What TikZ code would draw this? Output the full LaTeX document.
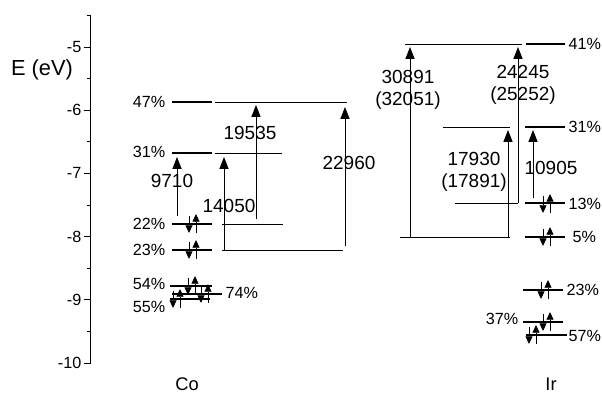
\documentclass[tikz,border=0pt]{standalone}
\usepackage{fontspec}
\setmainfont{Liberation Sans}
\usetikzlibrary{arrows.meta,positioning}

\begin{document}
\begin{tikzpicture}[
  x=0.025cm, y=-0.025cm,
  every node/.style={inner sep=1pt},
  level/.style={line width=1.4pt},
  guide/.style={line width=0.6pt},
  trans/.style={-{Triangle[length=8.5pt,width=6.5pt]}, line width=0.65pt},
  spin/.style={-{Triangle[length=5.5pt,width=5pt]}, line width=0.6pt},
  pct/.style={font=\fontsize{11.5}{13}\selectfont},
  val/.style={font=\fontsize{13.5}{16}\selectfont, align=center},
  ticklab/.style={font=\fontsize{11.5}{13}\selectfont, anchor=east},
  metal/.style={font=\fontsize{13}{15}\selectfont}
]
  \useasboundingbox (0,0) rectangle (602,399);

  % energy axis
  \coordinate (axtop) at (90.5,15);
  \coordinate (axbot) at (90.5,363);
  \draw[line width=0.8pt] (axtop) -- (axbot);
  \foreach \e in {5,...,10} {
    \pgfmathsetmacro\yy{47+(\e-5)*63.2}
    \draw[line width=0.7pt] (84,\yy) -- (90.5,\yy);
    \node[ticklab] (tick\e) at (83,\yy) {-\e};
  }
  \foreach \e in {4.5,5.5,...,9.5} {
    \pgfmathsetmacro\yy{47+(\e-5)*63.2}
    \draw[line width=0.7pt] (87,\yy) -- (90.5,\yy);
  }
  \node[font=\fontsize{15.5}{17}\selectfont] (elabel) at (42,70) {E (eV)};

  % Co levels
  \draw[level] (172,102) -- (212,102); \draw[guide] (215,102) -- (347,102);
  \draw[level] (172,153) -- (212,153); \draw[guide] (215,153) -- (282,153);
  \draw[level] (172,224) -- (212,224); \draw[guide] (222,224) -- (283,224);
  \draw[level] (172,250) -- (212,250); \draw[guide] (222,250) -- (343,250);
  \draw[level] (170,286) -- (212,286);
  \draw[level] (172,294) -- (222,294);
  \draw[level] (170,299) -- (210,299);

  \node[pct, anchor=east] (co47) at (167,102) {47\%};
  \node[pct, anchor=east] (co31) at (167,152) {31\%};
  \node[pct, anchor=east] (co22) at (167,224) {22\%};
  \node[pct, anchor=east] (co23) at (167,250) {23\%};
  \node[pct, anchor=east] (co54) at (167,284) {54\%};
  \node[pct, anchor=east] (co55) at (167,307) {55\%};
  \node[pct, anchor=west] (co74) at (224,293) {74\%};

  % Ir levels
  \draw[guide] (405,44) -- (522,44);  \draw[level] (526,44) -- (565,44);
  \draw[guide] (443,127) -- (510,127); \draw[level] (525,127) -- (565,127);
  \draw[guide] (455,203) -- (518,203); \draw[level] (525,203) -- (565,203);
  \draw[guide] (400,237) -- (510,237); \draw[level] (525,237) -- (565,237);
  \draw[level] (523,290) -- (563,290);
  \draw[level] (523,322) -- (563,322);
  \draw[level] (526,335) -- (567,335);

  \node[pct, anchor=west] (ir41) at (567,44) {41\%};
  \node[pct, anchor=west] (ir31) at (567,127) {31\%};
  \node[pct, anchor=west] (ir13) at (567,204) {13\%};
  \node[pct, anchor=west] (ir5) at (571,237) {5\%};
  \node[pct, anchor=west] (ir23) at (565,290) {23\%};
  \node[pct, anchor=east] (ir37) at (520,319) {37\%};
  \node[pct, anchor=west] (ir57) at (567,336) {57\%};

  % electron pairs (down, up)
  \foreach \x/\y in {189/224, 189/250, 188/286, 201/294, 173/299,
                     543/204, 543/237, 541/290, 543/322, 529/335} {
    \draw[spin] (\x,\y-8) -- (\x,\y+9);
    \draw[spin] (\x+7,\y+9) -- (\x+7,\y-10);
  }

  % Co transitions
  \coordinate (c9710a) at (177,216);  \coordinate (c9710b) at (177,157);
  \coordinate (c14050a) at (224,250); \coordinate (c14050b) at (224,157);
  \coordinate (c19535a) at (256,219); \coordinate (c19535b) at (256,105);
  \coordinate (c22960a) at (345,246); \coordinate (c22960b) at (345,107);
  \draw[trans] (c9710a) -- (c9710b);
  \draw[trans] (c14050a) -- (c14050b);
  \draw[trans] (c19535a) -- (c19535b);
  \draw[trans] (c22960a) -- (c22960b);
  \node[val] (v9710) at (172,181) {9710};
  \node[val] (v14050) at (229,206) {14050};
  \node[val] (v19535) at (250,133) {19535};
  \node[val] (v22960) at (349,163) {22960};

  % Ir transitions
  \coordinate (i30891a) at (410,237); \coordinate (i30891b) at (410,47);
  \coordinate (i24245a) at (518,203); \coordinate (i24245b) at (518,47);
  \coordinate (i17930a) at (508,237); \coordinate (i17930b) at (508,130);
  \coordinate (i10905a) at (533,198); \coordinate (i10905b) at (533,130);
  \draw[trans] (i30891a) -- (i30891b);
  \draw[trans] (i24245a) -- (i24245b);
  \draw[trans] (i17930a) -- (i17930b);
  \draw[trans] (i10905a) -- (i10905b);
  \node[val] (v30891) at (408,90) {30891\\(32051)};
  \node[val] (v24245) at (523,85) {24245\\(25252)};
  \node[val] (v17930) at (474,172) {17930\\(17891)};
  \node[val] (v10905) at (551,168) {10905};

  \node[metal] (co) at (187,384) {Co};
  \node[metal] (ir) at (551,384) {Ir};
\end{tikzpicture}
\end{document}
